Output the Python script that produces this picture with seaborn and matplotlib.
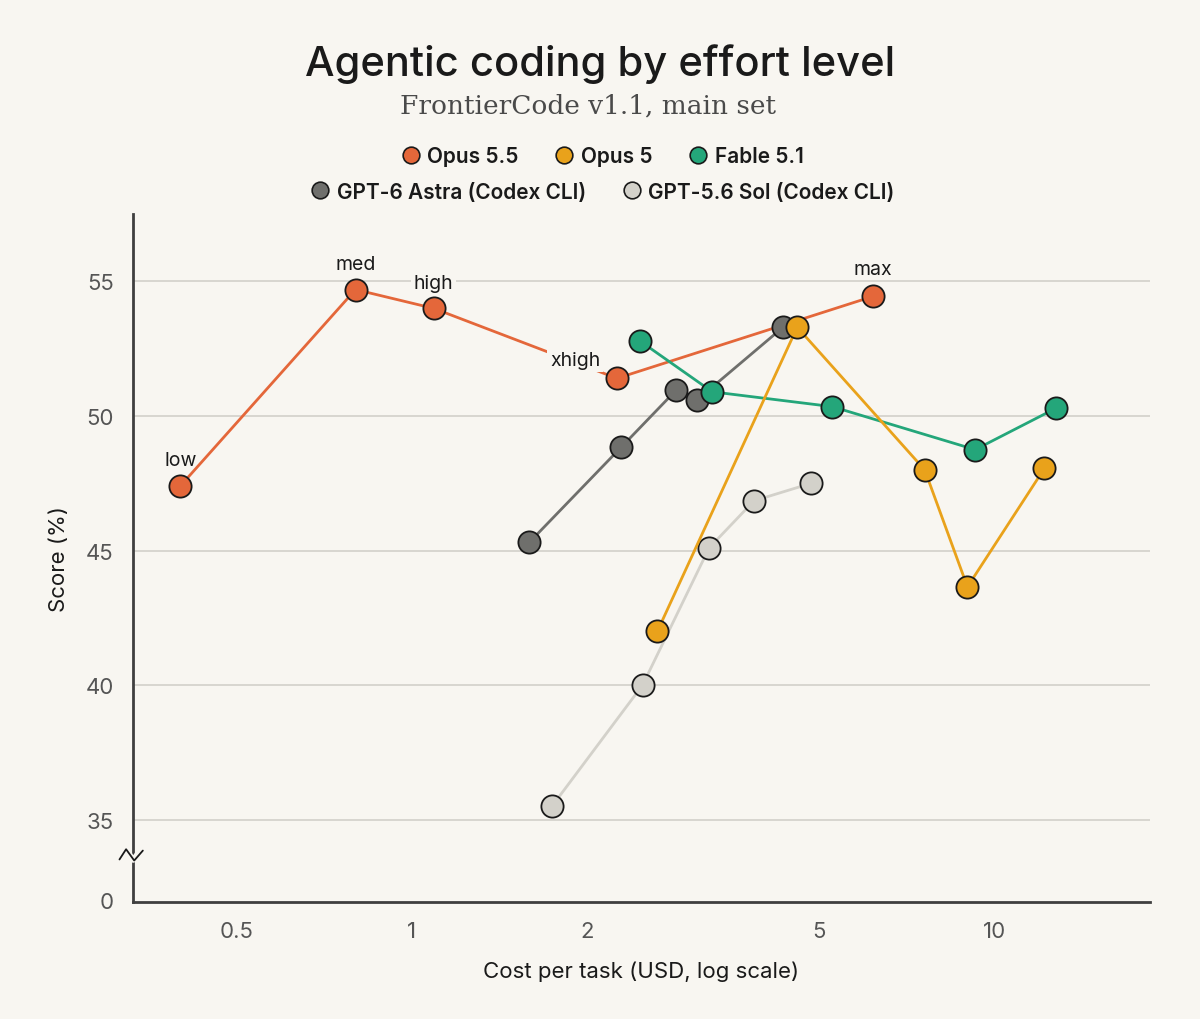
import matplotlib
matplotlib.use("Agg")
import matplotlib.pyplot as plt
import matplotlib.transforms as mtransforms
from matplotlib.lines import Line2D
import pandas as pd
import seaborn as sns

BG = "#F8F6F1"
TXT = "#1A1A1A"
TICK = "#555555"

# values (cost in USD, score in %)
opus55_cost = [0.40, 0.80, 1.09, 2.25, 6.2]
opus55_score = [47.4, 54.7, 54.0, 51.4, 54.45]
opus55_effort = ["low", "med", "high", "xhigh", "max"]

opus5_cost = [2.64, 4.59, 7.6, 9.0, 12.2]
opus5_score = [42.0, 53.3, 48.0, 43.65, 48.05]

fable_cost = [2.46, 3.28, 5.27, 9.28, 12.8]
fable_score = [52.8, 50.9, 50.35, 48.75, 50.3]

astra_cost = [1.59, 2.29, 2.84, 3.09, 4.34]
astra_score = [45.3, 48.85, 50.95, 50.6, 53.3]

sol_cost = [1.74, 2.49, 3.24, 3.87, 4.85]
sol_score = [35.5, 40.0, 45.1, 46.85, 47.5]

models = ["Opus 5.5", "Opus 5", "Fable 5.1",
          "GPT-6 Astra (Codex CLI)", "GPT-5.6 Sol (Codex CLI)"]
colors = ["#E4673A", "#E9A21B", "#24A67A", "#6F6F6C", "#D3D1CA"]
draw_order = ["Opus 5.5", "GPT-5.6 Sol (Codex CLI)", "GPT-6 Astra (Codex CLI)",
              "Fable 5.1", "Opus 5"]

x_ticks = [0.5, 1, 2, 5, 10]
x_ticklabels = ["0.5", "1", "2", "5", "10"]
y_ticks = [32, 35, 40, 45, 50, 55]
y_ticklabels = ["0", "35", "40", "45", "50", "55"]

frames = []
for name, xs, ys in zip(models,
                        [opus55_cost, opus5_cost, fable_cost, astra_cost, sol_cost],
                        [opus55_score, opus5_score, fable_score, astra_score, sol_score]):
    frames.append(pd.DataFrame({"model": name, "cost": xs, "score": ys}))
df = pd.concat(frames, ignore_index=True)
palette = dict(zip(models, colors))

sns.set_theme(style="white")
plt.rcParams.update({
    "font.family": ["Inter", "DejaVu Sans"],
    "figure.facecolor": BG,
    "axes.facecolor": BG,
    "savefig.facecolor": BG,
})

fig = plt.figure(figsize=(12, 10.2), dpi=100)
ax = fig.add_axes([0.111, 0.115, 0.847, 0.674])

sns.lineplot(data=df, x="cost", y="score", hue="model", hue_order=draw_order,
             palette=palette, marker="o", markersize=16,
             markeredgecolor="#1A1A1A", markeredgewidth=1.3, linewidth=2.0,
             estimator=None, sort=False, legend=False, ax=ax)

# effort labels on Opus 5.5 (boxed ones mask the line / grid behind them)
offsets = {"low": (0, 12), "med": (0, 12), "high": (0, 12),
           "xhigh": (-30, 7), "max": (0, 13)}
boxed = {"high", "xhigh"}
for xv, yv, lab in zip(opus55_cost, opus55_score, opus55_effort):
    bbox = dict(boxstyle="square,pad=0.15", fc=BG, ec="none") if lab in boxed else None
    ax.annotate(lab, (xv, yv), xytext=offsets[lab], textcoords="offset points",
                ha="center", va="bottom", fontsize=14, color=TXT, zorder=5,
                bbox=bbox)

ax.set_xscale("log")
ax.set_xlim(0.332, 18.5)
ax.set_ylim(31.95, 57.5)
ax.set_xticks(x_ticks)
ax.set_xticklabels(x_ticklabels)
ax.minorticks_off()
ax.set_yticks(y_ticks)
ax.set_yticklabels(y_ticklabels)
ax.tick_params(axis="both", length=0, labelsize=16, labelcolor=TICK)
ax.tick_params(axis="y", pad=14)
ax.tick_params(axis="x", pad=14)

ax.grid(axis="y", color="#D2D0CA", linewidth=1.2)
ax.grid(axis="x", visible=False)
ax.yaxis.get_gridlines()[0].set_visible(False)

for side in ["top", "right"]:
    ax.spines[side].set_visible(False)
for side in ["left", "bottom"]:
    ax.spines[side].set_color("#3F3F3F")
    ax.spines[side].set_linewidth(2)

# broken-axis zigzag
trans = mtransforms.blended_transform_factory(ax.transAxes, ax.transData)
ax.plot([-0.0135, -0.007, 0.0, 0.0075, 0.0135], [33.55, 33.9, 33.5, 33.9, 33.7],
        color=BG, lw=4, transform=trans, clip_on=False, zorder=6)
ax.plot([-0.0135, -0.007, 0.001, 0.0095], [33.52, 33.9, 33.48, 33.85],
        color="#1A1A1A", lw=1.3, transform=trans, clip_on=False, zorder=7)

ax.set_xlabel("Cost per task (USD, log scale)", fontsize=16, color=TXT, labelpad=14)
ax.set_ylabel("Score (%)", fontsize=16, color=TXT, labelpad=12)

fig.text(0.5, 0.937, "Agentic coding by effort level", ha="center", va="center",
         fontsize=30, fontweight="medium", color=TXT)
fig.text(0.49, 0.896, "FrontierCode v1.1, main set", ha="center", va="center",
         fontsize=19, color="#4A4A4A", family=["DejaVu Serif"])

handles = [Line2D([], [], marker="o", linestyle="none", markersize=12,
                  markerfacecolor=c, markeredgecolor="#1A1A1A", markeredgewidth=1.2)
           for c in colors]
leg_kw = dict(frameon=False, handletextpad=0.1, handlelength=1.4, borderaxespad=0,
              prop={"size": 15, "weight": "semibold"}, labelcolor=TXT)
leg1 = fig.legend(handles[:3], models[:3], ncol=3, loc="center",
                  bbox_to_anchor=(0.5, 0.846), columnspacing=1.5, **leg_kw)
leg2 = fig.legend(handles[3:], models[3:], ncol=2, loc="center",
                  bbox_to_anchor=(0.5, 0.811), columnspacing=1.5, **leg_kw)

fig.savefig("out.png", dpi=100, facecolor=BG)
